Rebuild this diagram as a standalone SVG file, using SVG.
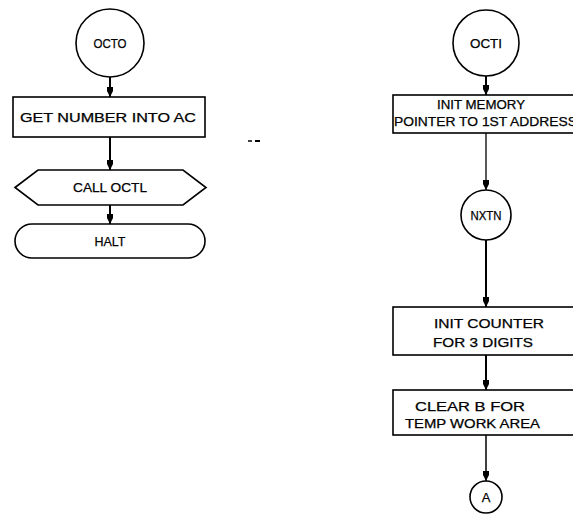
<svg xmlns="http://www.w3.org/2000/svg" width="573" height="516" viewBox="0 0 573 516">
<defs>
<marker id="ah" viewBox="0 0 10 8" refX="10" refY="4" markerWidth="10" markerHeight="8" markerUnits="userSpaceOnUse" orient="auto">
<path d="M0,1 L4,1 L10,4 L4,7 L0,7 Z" fill="#000"/>
</marker>
<style>
.s{fill:#fff;stroke:#000;stroke-width:1.6}
.t{font-family:"Liberation Sans","DejaVu Sans",sans-serif;font-size:12.5px;fill:#000;stroke:#000;stroke-width:0.25;text-anchor:middle}
.l{text-anchor:start}
.c{fill:none;stroke:#000;stroke-width:2}
</style>
</defs>
<rect width="573" height="516" fill="#fff"/>
<g id="connectors">
<line class="c" x1="110" y1="77" x2="110" y2="97" marker-end="url(#ah)"/>
<line class="c" x1="110" y1="137" x2="110" y2="170" marker-end="url(#ah)"/>
<line class="c" x1="110" y1="205" x2="110" y2="224" marker-end="url(#ah)"/>
<line class="c" x1="486" y1="76" x2="486" y2="95" marker-end="url(#ah)"/>
<line class="c" x1="486" y1="133" x2="486" y2="190" style="stroke-width:1.3" marker-end="url(#ah)"/>
<line class="c" x1="486" y1="240" x2="486" y2="307" marker-end="url(#ah)"/>
<line class="c" x1="486" y1="355" x2="486" y2="390" marker-end="url(#ah)"/>
<line class="c" x1="486" y1="435" x2="486" y2="481" style="stroke-width:1.5" marker-end="url(#ah)"/>
</g>
<g id="octo">
<circle class="s" cx="110" cy="43" r="34"/>
<text class="t" x="110" y="48" textLength="33" lengthAdjust="spacingAndGlyphs">OCTO</text>
</g>
<g id="get-number">
<rect class="s" x="13" y="97" width="192" height="40"/>
<text class="t" x="108" y="122" textLength="176" lengthAdjust="spacingAndGlyphs">GET NUMBER  INTO  AC</text>
</g>
<g id="call-octl">
<path class="s" d="M15,187.5 L38,170 L183,170 L206,187.5 L183,205 L38,205 Z"/>
<text class="t" x="110" y="192" textLength="74" lengthAdjust="spacingAndGlyphs">CALL OCTL</text>
</g>
<g id="halt">
<rect class="s" x="15" y="224" width="190" height="34" rx="17" ry="17"/>
<text class="t" x="110" y="246" textLength="31" lengthAdjust="spacingAndGlyphs">HALT</text>
</g>
<g id="marks">
<line x1="248" y1="141" x2="252" y2="141" stroke="#000" stroke-width="1.5"/>
<line x1="255" y1="141" x2="260" y2="141" stroke="#000" stroke-width="2"/>
</g>
<g id="octi">
<circle class="s" cx="486" cy="43" r="33"/>
<text class="t" x="486" y="48" textLength="32" lengthAdjust="spacingAndGlyphs">OCTI</text>
</g>
<g id="init-memory">
<rect class="s" x="393" y="95" width="184" height="38"/>
<text class="t" x="481" y="109" textLength="88" lengthAdjust="spacingAndGlyphs">INIT MEMORY</text>
<text class="t l" x="394" y="126" textLength="183" lengthAdjust="spacingAndGlyphs">POINTER TO 1ST ADDRESS</text>
</g>
<g id="nxtn">
<circle class="s" cx="486" cy="215" r="25"/>
<text class="t" x="486" y="220" textLength="31" lengthAdjust="spacingAndGlyphs">NXTN</text>
</g>
<g id="init-counter">
<rect class="s" x="393" y="307" width="181" height="48"/>
<text class="t l" x="434" y="328" textLength="110" lengthAdjust="spacingAndGlyphs">INIT COUNTER</text>
<text class="t l" x="433" y="347" textLength="100" lengthAdjust="spacingAndGlyphs">FOR 3 DIGITS</text>
</g>
<g id="clear-b">
<rect class="s" x="393" y="390" width="181" height="45"/>
<text class="t l" x="415" y="411" textLength="110" lengthAdjust="spacingAndGlyphs">CLEAR  B  FOR</text>
<text class="t l" x="405" y="428" textLength="135" lengthAdjust="spacingAndGlyphs">TEMP WORK AREA</text>
</g>
<g id="a">
<circle class="s" cx="486" cy="497" r="16"/>
<text class="t" x="486" y="502" style="font-size:13px">A</text>
</g>
</svg>
